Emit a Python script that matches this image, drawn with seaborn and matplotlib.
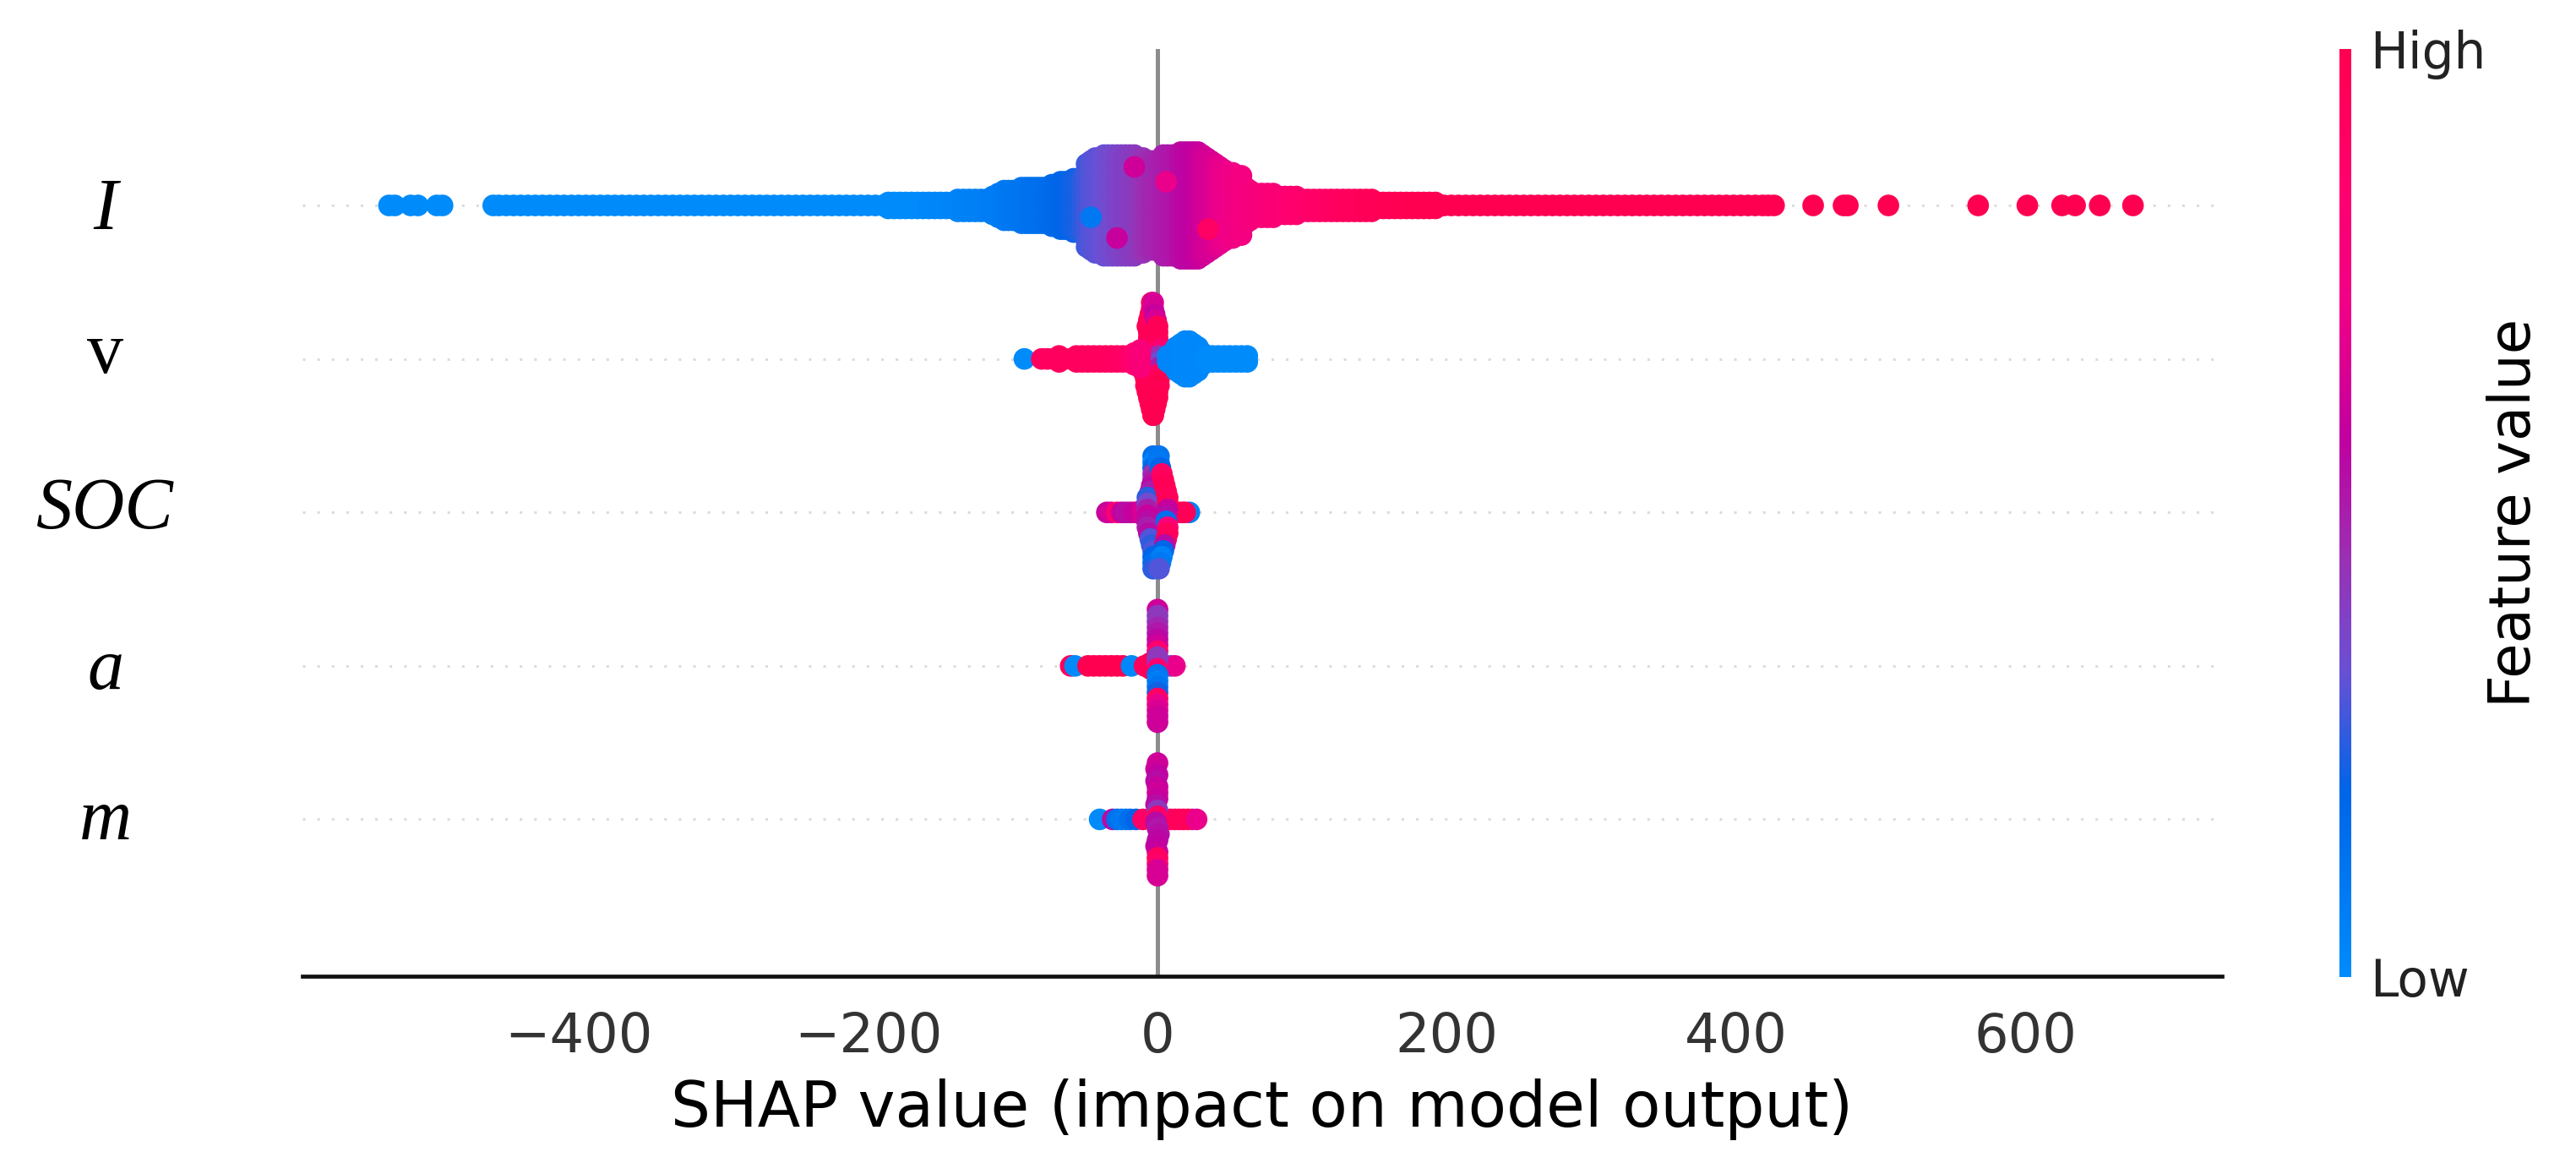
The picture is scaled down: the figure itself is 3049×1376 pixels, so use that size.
import numpy as np
import pandas as pd
import matplotlib
matplotlib.use("Agg")
import matplotlib.pyplot as plt
from matplotlib.colors import LinearSegmentedColormap, Normalize
from matplotlib.cm import ScalarMappable
from matplotlib.transforms import ScaledTranslation
import seaborn as sns

FEATURES = ["I", "v", "SOC", "a", "m"]
X_TICKS = [-400, -200, 0, 200, 400, 600]
XLABEL = "SHAP value (impact on model output)"
CBAR_LABEL = "Feature value"

# --- row I, single dots at the low end (all Low) and the high end (all High)
I_low_x = [-531, -527, -516, -511, -498, -494, -459, -455, -450, -445, -440, -435, -430, -425, -420, -415, -410, -405,
           -400, -395, -390, -385, -380, -375, -370, -365, -360, -355, -350, -345, -340, -335, -330, -325, -320, -315,
           -310, -305, -300, -295, -290, -285, -280, -275, -270, -265, -260, -255, -250, -245, -240, -235, -230, -225,
           -220, -215, -210, -205, -200, -195, -190]
I_high_x = [198, 203, 208, 213, 218, 223, 228, 233, 238, 243, 248, 253, 258, 263, 268, 273, 278, 283, 288, 293, 298,
            303, 308, 313, 318, 323, 328, 333, 338, 343, 348, 353, 358, 363, 368, 373, 378, 383, 388, 393, 398, 403,
            408, 413, 418, 422, 426, 453, 474, 477, 505, 567, 601, 625, 634, 651, 674]
# --- row I, the wide middle: column position, dots in the column, feature value
I_x = [-186, -182, -178, -174, -170, -166, -162, -158, -154, -150, -146, -142, -138, -134, -130, -126, -122, -118,
       -114, -110, -106, -103, -100, -97, -94, -91, -88, -85, -82, -79, -76, -73, -70, -67, -64, -61, -58, -55, -52, -49,
       -46, -43, -40, -37, -34, -31, -28, -25, -22, -19, -16, -13, -10, -7, -4, -2, 1, 4, 7, 10, 13, 16, 19, 22,
       25, 28, 31, 34, 37, 40, 43, 46, 49, 52, 55, 58, 61, 64, 68, 72, 76, 80, 84, 88, 92, 96, 100, 104, 108, 112, 116,
       120, 124, 128, 132, 136, 140, 144, 148, 152, 156, 160, 164, 168, 172, 176, 180, 184, 188, 192]
I_n = [2, 2, 2, 2, 2, 2, 2, 2, 2, 2, 2, 2, 3, 3, 3, 3, 3, 3,
       4, 5, 6, 6, 6, 6, 7, 7, 7, 7, 7, 7, 7, 8, 8, 9, 9, 9, 10, 10, 10, 15,
       16, 17, 17, 18, 18, 18, 18, 18, 18, 18, 18, 17, 17, 16, 16, 16, 16, 18, 18, 18, 18, 19, 19, 19,
       19, 19, 18, 17, 16, 15, 14, 13, 12, 12, 11, 11, 7, 6, 5, 5, 5, 5, 4, 4, 4, 4, 3, 3, 3, 3, 3,
       3, 3, 3, 3, 3, 3, 3, 3, 2, 2, 2, 2, 2, 2, 2, 2, 2, 2, 2]
I_c = [0, 0, 0, 0, 0, 0, 0.01, 0.02, 0.02, 0.03, 0.03, 0.04, 0.04, 0.05, 0.05, 0.06, 0.06, 0.07,
       0.08, 0.08, 0.09, 0.1, 0.1, 0.11, 0.12, 0.12, 0.13, 0.14, 0.14, 0.15, 0.16, 0.17, 0.18, 0.19, 0.2, 0.21, 0.22, 0.23, 0.25, 0.28,
       0.3, 0.31, 0.32, 0.33, 0.34, 0.35, 0.37, 0.38, 0.39, 0.4, 0.41, 0.42, 0.44, 0.46, 0.47, 0.48, 0.49, 0.5, 0.51, 0.52, 0.53, 0.55, 0.56, 0.57,
       0.58, 0.6, 0.62, 0.64, 0.65, 0.67, 0.69, 0.7, 0.72, 0.73, 0.74, 0.75, 0.76, 0.77, 0.78, 0.79, 0.8, 0.81, 0.82, 0.83, 0.84, 0.85, 0.86, 0.87, 0.88, 0.89, 0.9,
       0.91, 0.92, 0.93, 0.94, 0.94, 0.95, 0.96, 0.96, 0.97, 0.97, 0.98, 0.98, 0.99, 0.99, 1, 1, 1, 1, 1]
I_spot_x = [-16, 6, -28, -46, 35]
I_spot_level = [6.5, 4, -5.5, -2, -4]
I_spot_c = [0.62, 0.7, 0.6, 0.1, 0.9]

# --- row v
v_x = [-92, -80, -76, -72, -68, -64, -60, -56, -52, -48, -44, -40, -36, -32, -28, -24, -20, -16, -12,
       7, 10, 13, 16, 19, 22, 25, 28, 31, 34, 38, 42, 46, 50, 54, 58, 62]
v_n = [1, 1, 1, 1, 2, 1, 1, 2, 2, 2, 2, 2, 2, 2, 2, 2, 2, 3, 4,
       2, 3, 5, 6, 7, 7, 6, 5, 3, 2, 2, 2, 2, 2, 2, 2, 2]
v_c = [0, 0.93, 0.93, 0.93, 0.93, 0.93, 0.93, 0.93, 0.93, 0.93, 0.93, 0.93, 0.93, 0.92, 0.92, 0.9, 0.88, 0.85, 0.8,
       0.03, 0.03, 0.03, 0.02, 0.02, 0.02, 0.02, 0.02, 0.02, 0, 0, 0, 0, 0, 0, 0, 0]
v_stack_x = [-4, -4, -5, -6, -7, -6, -6, -6, -8, -8, -9, -9, -9, -8, -8, -7, -6, -5, -4, -3]
v_stack_c = [1, 0.95, 0.97, 0.95, 0.95, 0.97, 0.97, 0.95, 0.93, 0.85, 0.7, 0.9, 0.95, 1, 0.98, 0.98, 1, 0.98, 1, 1]
v_stack2_x = [-3, -3, -2, -1, 0, 0, 0, 1, 1, 1, 1, 1, 1, 1, 1, 0, 0, -1, -2, -3]
v_stack2_c = [0.65, 0.65, 0.6, 0.65, 0.97, 0.97, 0.97, 0.95, 0.85, 0.45, 0.35, 0.5, 0.9, 0.97, 1, 0.98, 1, 1, 1, 1]

# --- row SOC
soc_x = [-35, -32, -28, -25, -22, -19, -16, -13, -10, 22, 8, 11, 14, 17, 19]
soc_n = [1, 1, 1, 1, 1, 1, 1, 1, 2, 1, 2, 1, 1, 1, 1]
soc_c = [0.6, 0.65, 0.85, 0.6, 0.55, 0.55, 0.6, 0.6, 0.65, 0.05, 0.95, 0.97, 0.97, 0.97, 0.97]
soc_stack_x = [-3, -3, -3, -3, -3, -4, -5, -7, -7, -7, -7, -7, -7, -6, -5, -4, -3, -3, -3, -3]
soc_stack_c = [0.15, 0.05, 0.2, 0.45, 0.5, 0.55, 0.5, 0.25, 0.35, 0.5, 0.6, 0.55, 0.5, 0.55, 0.3, 0.25, 0.3, 0.2, 0.15, 0.25]
soc_stack2_x = [1, 1, 2, 3, 4, 5, 6, 7, 7, 7, 6, 6, 7, 7, 6, 5, 4, 3, 2, 1]
soc_stack2_c = [0.12, 0.1, 0.2, 0.9, 0.95, 0.97, 0.97, 0.95, 0.97, 0.6, 0.55, 0.15, 0.8, 0.95, 0.95, 0.55, 0.2, 0.05, 0.1, 0.3]

# --- row a
a_x = [-60, -57, -48, -44, -40, -36, -32, -28, -24, -18, -9, -5, 5, 9, 12]
a_n = [1, 1, 1, 1, 1, 1, 1, 1, 1, 1, 1, 2, 1, 1, 1]
a_c = [0.95, 0.01, 1, 1, 1, 1, 1, 1, 1, 0.02, 0.95, 0.95, 0.45, 0.35, 0.7]
a_stack_x = [0, 0, 0, 0, 0, 0, 0, 0, 0, 0, 0, 0, 0, 0, 0, 0, 0, 0, 0, 0]
a_stack_c = [0.62, 0.42, 0.42, 0.48, 0.52, 0.56, 0.62, 0.85, 0.42, 0.42, 0.85, 0.12, 0.08, 0.12, 0.22, 0.9, 0.7, 0.66, 0.62, 0.62]

# --- row m
m_x = [-40, -31, -28, -25, -22, -19, -15, -10, 9, 12, 15, 18, 24, 21, 27]
m_n = [1, 1, 1, 1, 1, 1, 1, 1, 1, 1, 1, 1, 1, 1, 1]
m_c = [0.01, 0.55, 0.15, 0.1, 0.1, 0.15, 0.2, 0.9, 0.95, 0.95, 0.95, 0.95, 0.4, 0.95, 0.7]
m_stack_x = [0, -1, 0, -1, 0, 0, 0, -1, 0, 0, -1, 0, 1, 0, -1, 0, 0, 0, 0, 0]
m_stack_c = [0.62, 0.62, 0.58, 0.55, 0.6, 0.62, 0.6, 0.55, 0.42, 0.9, 0.55, 0.52, 0.54, 0.56, 0.58, 0.6, 0.92, 0.88, 0.65, 0.65]

W, H, DPI = 3049, 1376, 100
STACK_STEP = 0.0386

shap_cmap = LinearSegmentedColormap.from_list(
    "shap_red_blue",
    [(0, "#008bfb"), (0.2, "#0065e8"), (0.33, "#6a50d4"), (0.45, "#9a30b4"),
     (0.58, "#c000a0"), (0.72, "#f00088"), (0.85, "#ff006e"), (1, "#ff0051")],
)


def columns(row, xs, ns, cs):
    frames = []
    for x, n, c in zip(xs, ns, cs):
        lv = np.arange(n) - (n - 1) / 2
        frames.append(pd.DataFrame({"x": x, "y": row + lv * STACK_STEP, "c": c}))
    return pd.concat(frames)


def stack(row, xs, cs):
    n = len(xs)
    lv = (n - 1) / 2 - np.arange(n)
    return pd.DataFrame({"x": xs, "y": row + lv * STACK_STEP, "c": cs})


points = pd.concat([
    columns(4, I_low_x, [1] * len(I_low_x), [0] * len(I_low_x)),
    columns(4, I_x, I_n, I_c),
    columns(4, I_high_x, [1] * len(I_high_x), [1] * len(I_high_x)),
    pd.DataFrame({"x": I_spot_x, "y": 4 + np.array(I_spot_level) * STACK_STEP, "c": I_spot_c}),
    stack(3, v_stack_x, v_stack_c), stack(3, v_stack2_x, v_stack2_c), columns(3, v_x, v_n, v_c),
    columns(2, soc_x, soc_n, soc_c), stack(2, soc_stack_x, soc_stack_c), stack(2, soc_stack2_x, soc_stack2_c),
    columns(1, a_x, a_n, a_c), stack(1, a_stack_x, a_stack_c),
    columns(0, m_x, m_n, m_c), stack(0, m_stack_x, m_stack_c),
], ignore_index=True)

sns.set_theme(style="white", rc={"font.family": "DejaVu Sans"})
fig = plt.figure(figsize=(W / DPI, H / DPI), dpi=DPI, facecolor="white")
ax = fig.add_axes([358 / W, 1 - 1154.5 / H, (2630 - 358) / W, (1154.5 - 58) / H])

for r in range(len(FEATURES)):
    ax.axhline(r, color="#dcdcdc", lw=2.2, linestyle=(0, (1, 4.6)), zorder=-2)
ax.axvline(0, color="#8c8c8c", lw=3.6, zorder=-1)

sns.scatterplot(data=points, x="x", y="y", hue="c", palette=shap_cmap, hue_norm=(0, 1),
                s=340, linewidth=0, legend=False, ax=ax, zorder=3)

ax.set_xlim(-590.8, 735.5)
ax.set_ylim(-1.019, 5.019)
ax.set_xticks(X_TICKS)
ax.set_xticklabels([str(t).replace("-", "\u2212") for t in X_TICKS])
ax.set_yticks(range(len(FEATURES)))
ax.set_yticklabels(FEATURES[::-1])
ax.tick_params(axis="x", labelsize=46, length=13, width=3, colors="#333333", pad=17, color="#222222")
ax.tick_params(axis="y", length=0, pad=168)
label_lift = {"I": 2, "v": 10, "SOC": 8, "a": 2, "m": 5}
for lab, name in zip(ax.get_yticklabels(), FEATURES[::-1]):
    lab.set_fontfamily("Liberation Serif")
    lab.set_fontstyle("normal" if name == "v" else "italic")
    lab.set_fontsize(62)
    lab.set_ha("center")
    lab.set_color("black")
    lab.set_transform(lab.get_transform() + ScaledTranslation(0, label_lift[name] / 72, fig.dpi_scale_trans))
ax.set_xlabel(XLABEL, fontsize=53.4, color="black", labelpad=13)
ax.set_ylabel("")
for s in ["top", "left", "right"]:
    ax.spines[s].set_visible(False)
ax.spines["bottom"].set_linewidth(3.4)
ax.spines["bottom"].set_color("#111111")

cax = fig.add_axes([2769 / W, 1 - 1156 / H, 14 / W, (1156 - 58) / H])
cb = fig.colorbar(ScalarMappable(Normalize(0, 1), shap_cmap), cax=cax, ticks=[0, 1])
cb.outline.set_visible(False)
cb.ax.set_yticklabels(["Low", "High"])
cb.ax.tick_params(length=0, labelsize=43, pad=16, colors="#222222")
cb.set_label(CBAR_LABEL, fontsize=48.5, color="black", labelpad=0)

fig.savefig("out.png", dpi=DPI, facecolor="white")
